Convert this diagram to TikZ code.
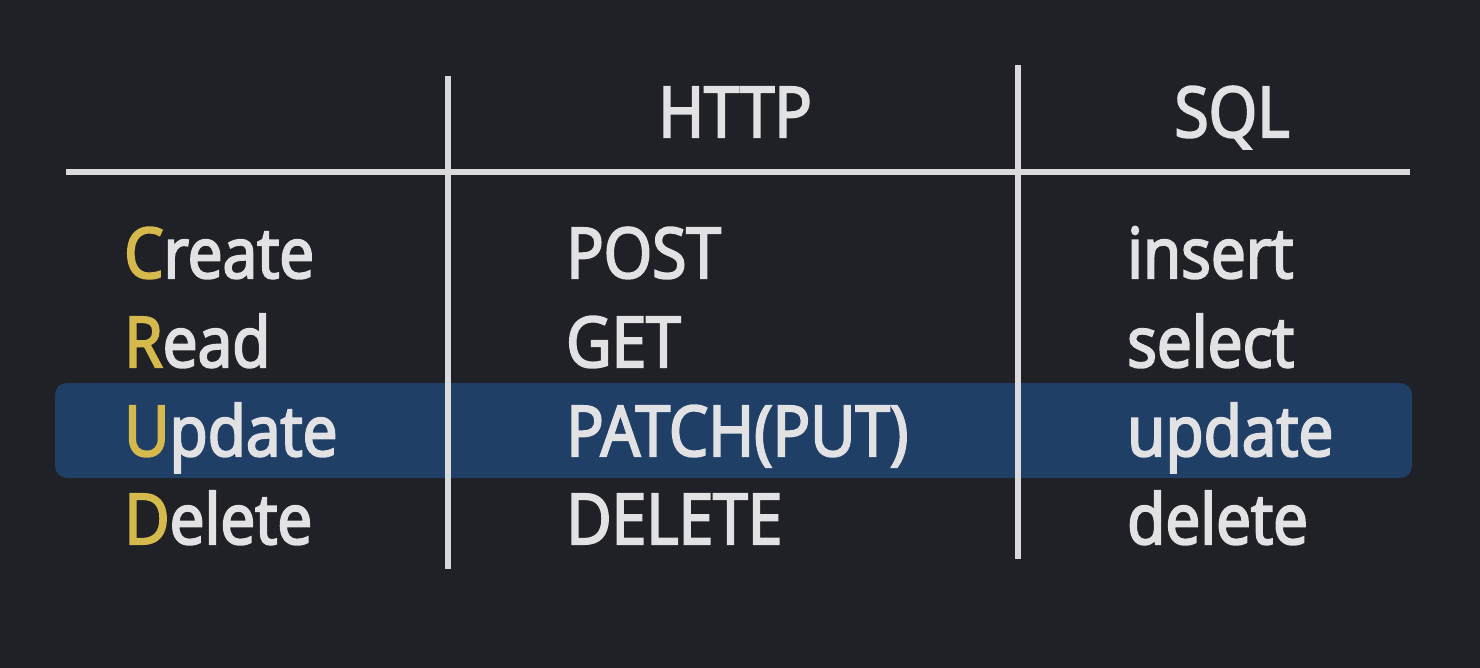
\documentclass[tikz,border=0pt]{standalone}
\usepackage{fontspec}
\setmainfont{Open Sans}[FakeStretch=0.89,FakeBold=3]
\definecolor{bgc}{RGB}{31,33,38}
\definecolor{bandc}{RGB}{31,63,103}
\definecolor{txtc}{RGB}{226,226,228}
\definecolor{linec}{RGB}{218,218,220}
\definecolor{yelc}{RGB}{214,185,76}
\tikzset{
  cell/.style={anchor=base west, inner sep=0pt, text=txtc, font=\fontsize{70}{84}\selectfont},
  head/.style={anchor=base, inner sep=0pt, text=txtc, font=\fontsize{70}{84}\selectfont},
  rule/.style={draw=linec, line width=6pt},
}
\newcommand{\Y}[1]{\textcolor{yelc}{#1}}
\begin{document}
\begin{tikzpicture}[x=1pt,y=-1pt]
\fill[bgc] (0,0) rectangle (1480,668);
\useasboundingbox (0,0) rectangle (1480,668);
% highlight band
\fill[bandc, rounded corners=12pt] (55,383) rectangle (1412,478);
% rules
\coordinate (h1) at (66,172);
\coordinate (h2) at (1410,172);
\coordinate (v1t) at (448,76);
\coordinate (v1b) at (448,569);
\coordinate (v2t) at (1018,65);
\coordinate (v2b) at (1018,559);
\draw[rule] (h1) -- (h2);
\draw[rule] (v1t) -- (v1b);
\draw[rule] (v2t) -- (v2b);
% headers
\node[head] (hhttp) at (735,137) {HTTP};
\node[head] (hsql) at (1232,137) {SQL};
% rows
\node[cell] (c1) at (124,278) {\Y{C}reate};
\node[cell] (c2) at (124,367) {\Y{R}ead};
\node[cell] (c3) at (124,456) {\Y{U}pdate};
\node[cell] (c4) at (124,544) {\Y{D}elete};
\node[cell] (h1n) at (566,278) {POST};
\node[cell] (h2n) at (566,367) {GET};
\node[cell] (h3n) at (566,456) {PATCH(PUT)};
\node[cell] (h4n) at (566,544) {DELETE};
\node[cell] (s1) at (1127,278) {insert};
\node[cell] (s2) at (1127,367) {select};
\node[cell] (s3) at (1127,456) {update};
\node[cell] (s4) at (1127,544) {delete};
\end{tikzpicture}
\end{document}
